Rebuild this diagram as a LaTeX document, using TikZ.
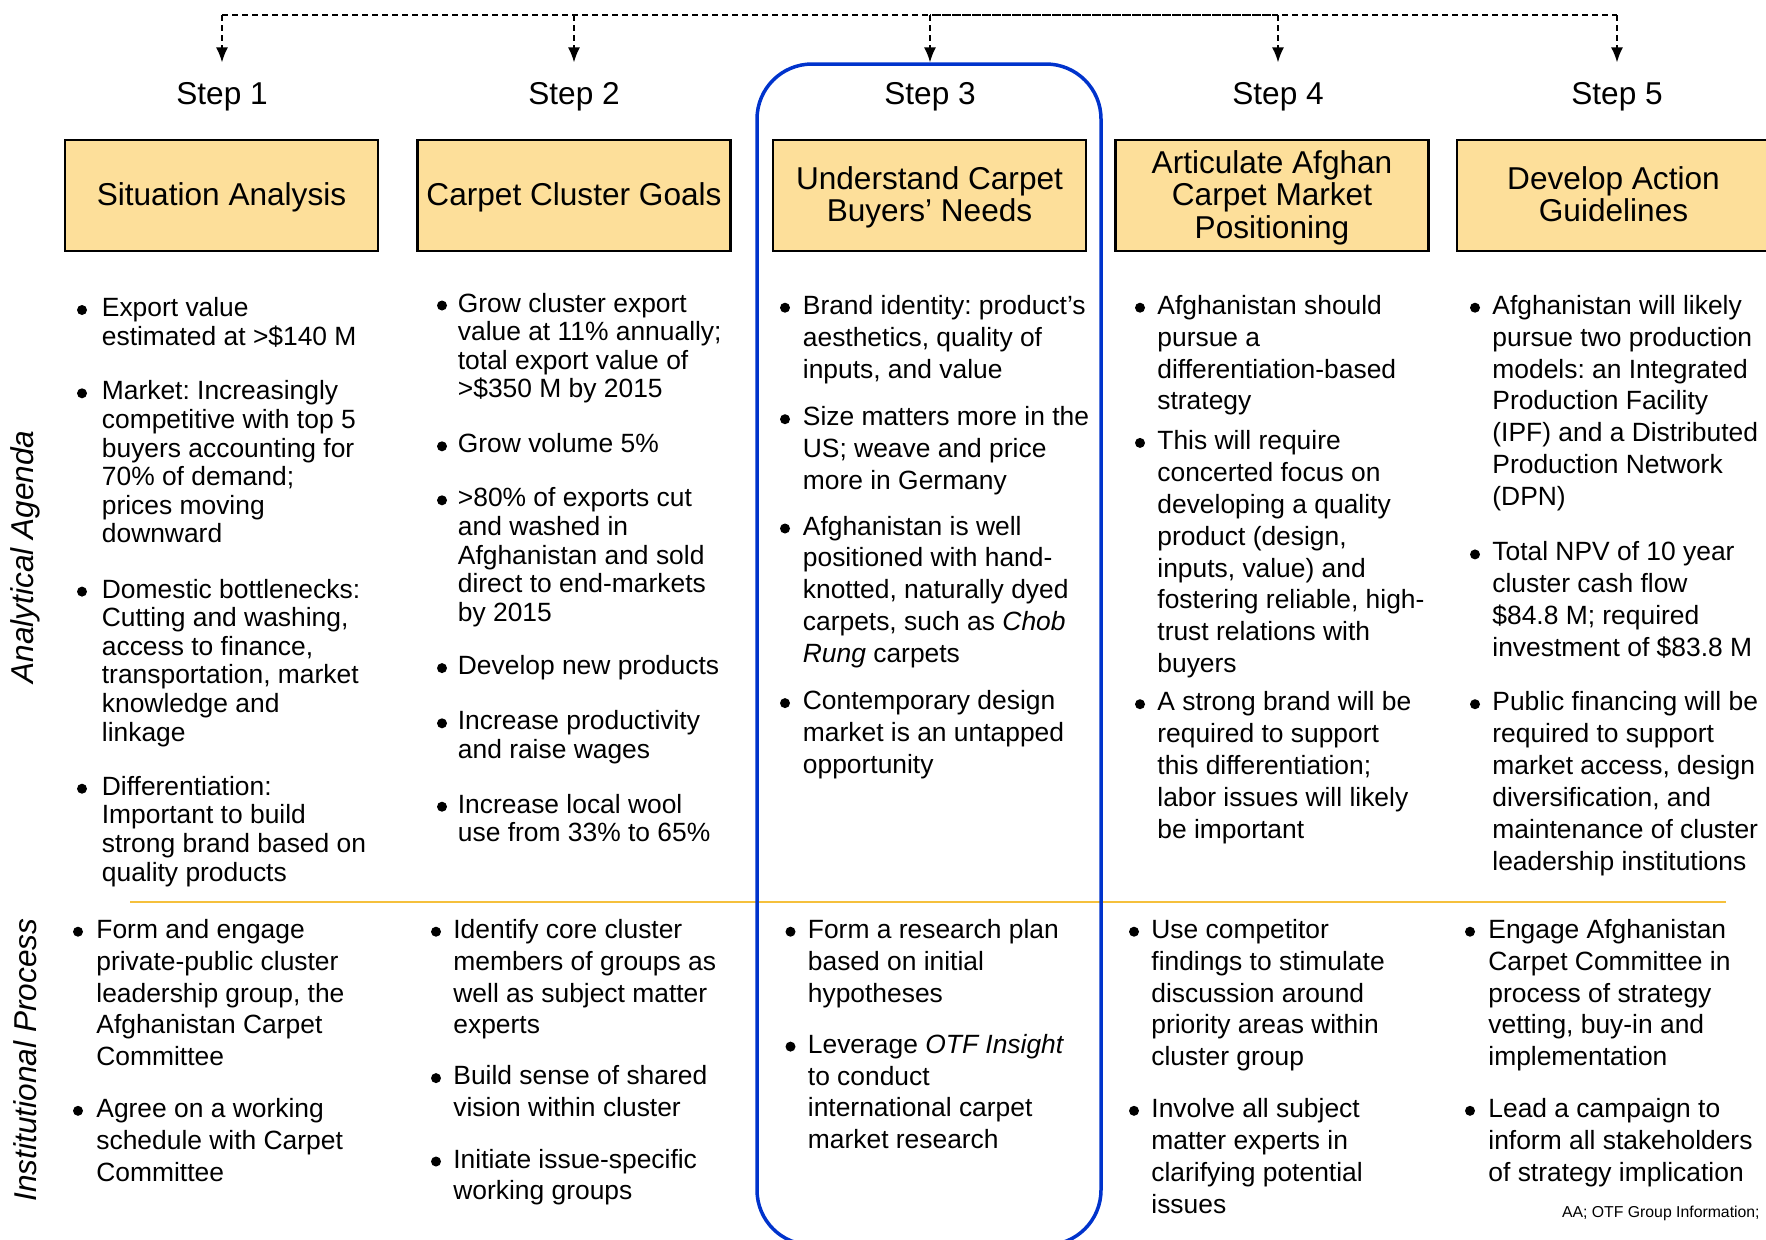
\documentclass[tikz,border=0pt]{standalone}
\usepackage{fontspec}
\setmainfont{Liberation Sans}
\usetikzlibrary{arrows.meta}
\frenchspacing
\definecolor{boxfill}{HTML}{FDDF9A}
\definecolor{sepyellow}{HTML}{F5C03C}
\definecolor{stepblue}{HTML}{0033CC}
\newcommand\bodyTight{\fontsize{13.2pt}{14.3pt}\selectfont}
\newcommand\bodyLoose{\fontsize{13.2pt}{15.95pt}\selectfont}
\newcommand\headfont{\fontsize{15.8pt}{16pt}\selectfont}
\newcommand\notefont{\fontsize{7.9pt}{9pt}\selectfont}
% #1 style, #2 name, #3 dot x, #4 text x, #5 baseline y, #6 lines
\newcommand\bitem[6]{%
  \fill (#3,#5-6.5) circle (2.5pt);
  \node[#1, anchor=base west] (#2) at (#4,#5) {\begin{tabular}[t]{@{}l@{}}#6\end{tabular}};}
% title text, lowered a little inside its box
\newcommand\ttl[1]{\raisebox{-1.7pt}[\height][\depth]{\begin{tabular}{@{}c@{}}#1\end{tabular}}}
\tikzset{
  tight/.style={inner sep=0pt, font=\bodyTight},
  loose/.style={inner sep=0pt, font=\bodyLoose},
  titlebox/.style={draw=black, line width=1.25pt, fill=boxfill, minimum width=156.5pt,
    minimum height=55.5pt, inner sep=0pt, align=center, font=\headfont},
  steplabel/.style={inner sep=0pt, font=\headfont},
  sidelabel/.style={inner sep=0pt, font=\headfont\itshape, rotate=90},
  dashline/.style={line width=0.75pt, dash pattern=on 3pt off 2pt},
  dasharrow/.style={dashline, -{Latex[length=7.5pt,width=6pt]}, shorten >=9.6pt},
  bluebox/.style={draw=stepblue, line width=1.75pt, rounded corners=27.5pt},
  sepline/.style={draw=sepyellow, line width=1pt},
}
\begin{document}
\begin{tikzpicture}[x=0.5pt, y=-0.5pt]
\useasboundingbox (0,0) rectangle (1766,1239);
\clip (0,0) rectangle (1766,1239);

% step labels
\node[steplabel, anchor=base] (s1) at (222,104) {Step 1};
\node[steplabel, anchor=base] (s2) at (574,104) {Step 2};
\node[steplabel, anchor=base] (s3) at (930,104) {Step 3};
\node[steplabel, anchor=base] (s4) at (1278,104) {Step 4};
\node[steplabel, anchor=base] (s5) at (1617,104) {Step 5};

% dashed feed lines
\coordinate (t1) at (222,15);
\coordinate (t2) at (574,15);
\coordinate (t3) at (930,15);
\coordinate (t4) at (1278,15);
\coordinate (t5) at (1617,15);
\draw[dashline] (t1) -- (t5);
\draw[dashline, dash phase=2.5pt] (t3) -- (t4);
\draw[dasharrow] (t1) -- (s1.north);
\draw[dasharrow] (t2) -- (s2.north);
\draw[dasharrow] (t3) -- (s3.north);
\draw[dasharrow] (t4) -- (s4.north);
\draw[dasharrow] (t5) -- (s5.north);

% title boxes
\node[titlebox] (b1) at (221.5,195.5) {\ttl{Situation Analysis}};
\node[titlebox] (b2) at (574,195.5) {\ttl{Carpet Cluster Goals}};
\node[titlebox] (b3) at (929.5,195.5) {\ttl{Understand Carpet\\Buyers’ Needs}};
\node[titlebox] (b4) at (1272,195.5) {\ttl{Articulate Afghan\\Carpet Market\\Positioning}};
\node[titlebox] (b5) at (1613.5,195.5) {\ttl{Develop Action\\Guidelines}};

% separator line
\draw[sepline] (130,902) -- (1726,902);

% blue frame around step 3
\draw[bluebox] (757,64) rectangle (1101,1245);

% side labels
\node[sidelabel] (aa) at (25,557) {Analytical Agenda};
\node[sidelabel] (ip) at (25,1060) {Institutional Process};

% ---- Analytical agenda ----
% column 1
\bitem{tight}{u11}{82}{101.5}{316.5}{Export value\\estimated at >\$140 M}
\bitem{tight}{u12}{82}{101.5}{399.8}{Market: Increasingly\\competitive with top 5\\buyers accounting for\\70\% of demand;\\prices moving\\downward}
\bitem{tight}{u13}{82}{101.5}{598.1}{Domestic bottlenecks:\\Cutting and washing,\\access to finance,\\transportation, market\\knowledge and\\linkage}
\bitem{tight}{u14}{82}{101.5}{795.2}{Differentiation:\\Important to build\\strong brand based on\\quality products}
% column 2
\bitem{tight}{u21}{442}{457.5}{312}{Grow cluster export\\value at 11\% annually;\\total export value of\\>\$350 M by 2015}
\bitem{tight}{u22}{442}{457.5}{452.8}{Grow volume 5\%}
\bitem{tight}{u23}{442}{457.5}{506.8}{>80\% of exports cut\\and washed in\\Afghanistan and sold\\direct to end-markets\\by 2015}
\bitem{tight}{u24}{442}{457.5}{674.6}{Develop new products}
\bitem{tight}{u25}{442}{457.5}{729.8}{Increase productivity\\and raise wages}
\bitem{tight}{u26}{442}{457.5}{813.2}{Increase local wool\\use from 33\% to 65\%}
% column 3
\bitem{loose}{u31}{785}{802.5}{314.2}{Brand identity: product’s\\aesthetics, quality of\\inputs, and value}
\bitem{loose}{u32}{785}{802.5}{425.7}{Size matters more in the\\US; weave and price\\more in Germany}
\bitem{loose}{u33}{785}{802.5}{535}{Afghanistan is well\\positioned with hand-\\knotted, naturally dyed\\carpets, such as \textit{Chob}\\\textit{Rung} carpets}
\bitem{loose}{u34}{785}{802.5}{709.6}{Contemporary design\\market is an untapped\\opportunity}
% column 4
\bitem{loose}{u41}{1140}{1157}{314.2}{Afghanistan should\\pursue a\\differentiation-based\\strategy}
\bitem{loose}{u42}{1140}{1157}{449.4}{This will require\\concerted focus on\\developing a quality\\product (design,\\inputs, value) and\\fostering reliable, high-\\trust relations with\\buyers}
\bitem{loose}{u43}{1140}{1157}{710.7}{A strong brand will be\\required to support\\this differentiation;\\labor issues will likely\\be important}
% column 5
\bitem{loose}{u51}{1475}{1492}{314.2}{Afghanistan will likely\\pursue two production\\models: an Integrated\\Production Facility\\(IPF) and a Distributed\\Production Network\\(DPN)}
\bitem{loose}{u52}{1475}{1492}{560.9}{Total NPV of 10 year\\cluster cash flow\\\$84.8 M; required\\investment of \$83.8 M}
\bitem{loose}{u53}{1475}{1492}{710.7}{Public financing will be\\required to support\\market access, design\\diversification, and\\maintenance of cluster\\leadership institutions}

% ---- Institutional process ----
\bitem{loose}{l11}{78}{96}{938.2}{Form and engage\\private-public cluster\\leadership group, the\\Afghanistan Carpet\\Committee}
\bitem{loose}{l12}{78}{96}{1117.3}{Agree on a working\\schedule with Carpet\\Committee}
\bitem{loose}{l21}{436}{453}{938.2}{Identify core cluster\\members of groups as\\well as subject matter\\experts}
\bitem{loose}{l22}{436}{453}{1084.6}{Build sense of shared\\vision within cluster}
\bitem{loose}{l23}{436}{453}{1168}{Initiate issue-specific\\working groups}
\bitem{loose}{l31}{790.5}{807.5}{938.2}{Form a research plan\\based on initial\\hypotheses}
\bitem{loose}{l32}{790.5}{807.5}{1053.1}{Leverage \textit{OTF Insight}\\to conduct\\international carpet\\market research}
\bitem{loose}{l41}{1134}{1151}{938.2}{Use competitor\\findings to stimulate\\discussion around\\priority areas within\\cluster group}
\bitem{loose}{l42}{1134}{1151}{1117.3}{Involve all subject\\matter experts in\\clarifying potential\\issues}
\bitem{loose}{l51}{1470}{1488}{938.2}{Engage Afghanistan\\Carpet Committee in\\process of strategy\\vetting, buy-in and\\implementation}
\bitem{loose}{l52}{1470}{1488}{1117.3}{Lead a campaign to\\inform all stakeholders\\of strategy implication}

% source note
\node[anchor=base east, inner sep=0pt, font=\notefont] (fn) at (1760,1217) {AA; OTF Group Information;};
\end{tikzpicture}
\end{document}
